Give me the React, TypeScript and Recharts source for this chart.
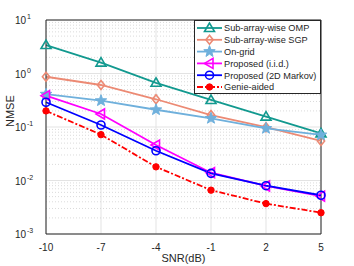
import { LineChart, Line, XAxis, YAxis, CartesianGrid, ReferenceLine } from 'recharts';

const snr = [-10, -7, -4, -1, 2, 5];
const omp = [3.4, 1.6, 0.67, 0.32, 0.156, 0.076];
const sgp = [0.87, 0.61, 0.33, 0.167, 0.099, 0.055];
const onGrid = [0.41, 0.31, 0.21, 0.145, 0.094, 0.071];
const iid = [0.385, 0.175, 0.046, 0.014, 0.0079, 0.0051];
const markov = [0.29, 0.109, 0.036, 0.0136, 0.008, 0.0053];
const genie = [0.2, 0.072, 0.018, 0.0066, 0.0037, 0.0025];

const xTicks = [-10, -7, -4, -1, 2, 5];
const yTicks = [0.001, 0.01, 0.1, 1, 10];
const minorTicks = [0.001, 0.01, 0.1, 1].flatMap((d) => [2, 3, 4, 5, 6, 7, 8, 9].map((k) => k * d));

const data = snr.map((s, i) => ({
    snr: s,
    omp: omp[i],
    sgp: sgp[i],
    onGrid: onGrid[i],
    iid: iid[i],
    markov: markov[i],
    genie: genie[i],
}));

type MarkerKind = 'triUp' | 'diamond' | 'star' | 'triLeft' | 'circle' | 'dot';

const series: { key: string; name: string; color: string; marker: MarkerKind; dash?: string }[] = [
    { key: 'omp', name: 'Sub-array-wise OMP', color: '#12998f', marker: 'triUp' },
    { key: 'sgp', name: 'Sub-array-wise SGP', color: '#ec8a74', marker: 'diamond' },
    { key: 'onGrid', name: 'On-grid', color: '#6fb0dc', marker: 'star' },
    { key: 'iid', name: 'Proposed (i.i.d.)', color: '#ff00ff', marker: 'triLeft' },
    { key: 'markov', name: 'Proposed (2D Markov)', color: '#0000ff', marker: 'circle' },
    { key: 'genie', name: 'Genie-aided', color: '#ff0000', marker: 'dot', dash: '6 2 2 2' },
];

const font = 'Liberation Sans, Arial';

function Marker({ cx, cy, kind, color }: { cx: number; cy: number; kind: MarkerKind; color: string }) {
    const sw = 1.6;
    if (kind === 'triUp') {
        const r = 5;
        return <polygon points={`${cx},${cy - r} ${cx - r},${cy + r * 0.7} ${cx + r},${cy + r * 0.7}`} fill="none" stroke={color} strokeWidth={sw} />;
    }
    if (kind === 'triLeft') {
        const r = 5;
        return <polygon points={`${cx - r},${cy} ${cx + r * 0.7},${cy - r} ${cx + r * 0.7},${cy + r}`} fill="none" stroke={color} strokeWidth={sw} />;
    }
    if (kind === 'diamond') {
        const r = 4.5;
        return <polygon points={`${cx},${cy - r} ${cx + r * 0.8},${cy} ${cx},${cy + r} ${cx - r * 0.8},${cy}`} fill="none" stroke={color} strokeWidth={sw} />;
    }
    if (kind === 'star') {
        const pts: string[] = [];
        for (let i = 0; i < 10; i++) {
            const r = i % 2 === 0 ? 6 : 2.5;
            const a = -Math.PI / 2 + (i * Math.PI) / 5;
            pts.push(`${cx + r * Math.cos(a)},${cy + r * Math.sin(a)}`);
        }
        return <polygon points={pts.join(' ')} fill={color} stroke={color} strokeWidth={1} />;
    }
    if (kind === 'circle') {
        return <circle cx={cx} cy={cy} r={4} fill="none" stroke={color} strokeWidth={sw} />;
    }
    return <circle cx={cx} cy={cy} r={3.2} fill={color} stroke={color} strokeWidth={1} />;
}

function YTick({ x, y, payload }: any) {
    const exp = Math.round(Math.log10(payload.value));
    return (
        <text x={x - 12} y={y + 4} textAnchor="end" fontSize={10} fill="#262626" fontFamily={font}>
            10
            <tspan x={x - 11} dy={-5} fontSize={7} textAnchor="start">{exp}</tspan>
        </text>
    );
}

function LegendBox() {
    return (
        <svg width={128} height={75} style={{ display: 'block' }}>
            <rect x={0.5} y={0.5} width={126} height={73} fill="#fff" stroke="#262626" strokeWidth={1} />
            {series.map((s, i) => {
                const cy = 8 + i * 11.8;
                return (
                    <g key={s.key}>
                        <line x1={3} x2={28} y1={cy} y2={cy} stroke={s.color} strokeWidth={1.8} strokeDasharray={s.dash} />
                        <Marker cx={15.5} cy={cy} kind={s.marker} color={s.color} />
                        <text x={30} y={cy + 3.3} fontSize={9.2} fill="#262626" fontFamily={font}>
                            {s.name}
                        </text>
                    </g>
                );
            })}
        </svg>
    );
}

function XLabel({ viewBox }: any) {
    const { x, y, width } = viewBox;
    return (
        <text x={x + width / 2} y={y + 28} textAnchor="middle" fontSize={11} fill="#262626" fontFamily={font}>
            SNR(dB)
        </text>
    );
}

export default function App() {
    return (
        <div style={{ position: 'absolute', left: 0, top: 0, width: 354, height: 266, background: '#fff' }}>
            <LineChart width={354} height={266} data={data} margin={{ top: 20, right: 33, left: 0, bottom: 2 }}>
                <CartesianGrid stroke="#e3e3e3" />
                {minorTicks.map((v) => (
                    <ReferenceLine key={v} y={v} stroke="#d0d0d0" strokeDasharray="1 2" strokeWidth={0.8} />
                ))}
                <XAxis
                    dataKey="snr"
                    type="number"
                    domain={[-10, 5]}
                    ticks={xTicks}
                    stroke="#262626"
                    tickLine={false}
                    tick={{ fill: '#262626', fontSize: 10, fontFamily: font }}
                    tickMargin={4}
                    label={<XLabel />}
                />
                <YAxis
                    scale="log"
                    domain={[0.001, 10]}
                    ticks={yTicks}
                    allowDataOverflow
                    width={46}
                    stroke="#262626"
                    tickLine={false}
                    tick={<YTick />}
                    label={{ value: 'NMSE', angle: -90, position: 'insideLeft', offset: 10, fill: '#262626', fontSize: 11, fontFamily: font }}
                />
                <ReferenceLine y={10} stroke="#262626" />
                <ReferenceLine x={5} stroke="#262626" />
                {series.map((s) => (
                    <Line
                        key={s.key}
                        type="linear"
                        dataKey={s.key}
                        name={s.name}
                        stroke={s.color}
                        strokeWidth={1.8}
                        strokeDasharray={s.dash}
                        isAnimationActive={false}
                        dot={(p: any) => <Marker key={`${s.key}-${p.index}`} cx={p.cx} cy={p.cy} kind={s.marker} color={s.color} />}
                    />
                ))}
            </LineChart>
            <div style={{ position: 'absolute', left: 194, top: 20 }}>
                <LegendBox />
            </div>
        </div>
    );
}
